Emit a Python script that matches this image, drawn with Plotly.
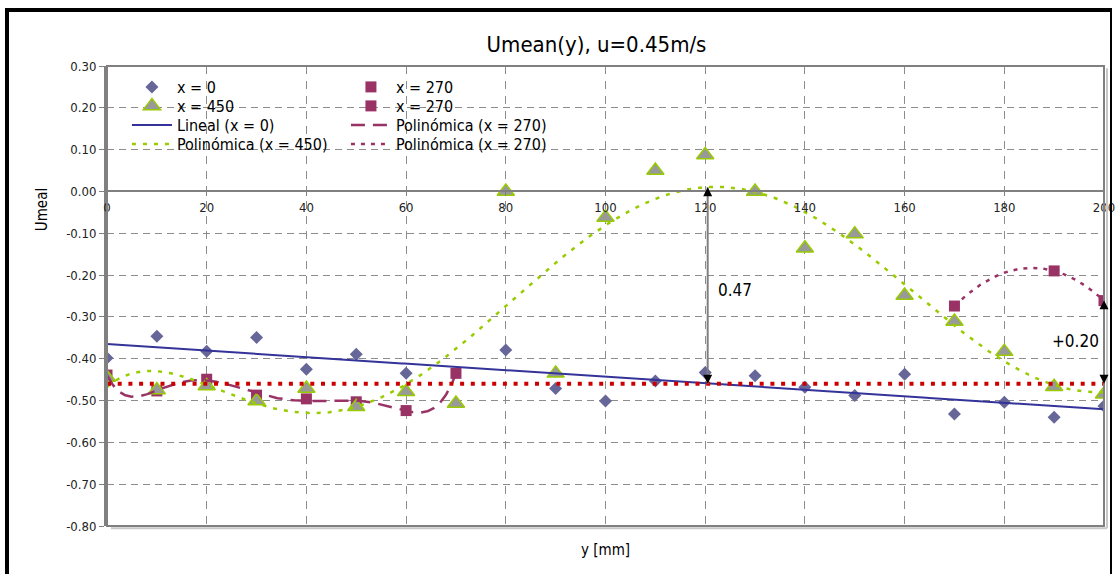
import numpy as np
import plotly.graph_objects as go

FONT = "DejaVu Sans Condensed, Liberation Sans Narrow, Roboto Condensed, Roboto, sans-serif"

# --- measured mean velocity profiles, Umean vs y [mm] ---
y_x0 = [0, 10, 20, 30, 40, 50, 60, 80, 90, 100, 110, 120, 130, 140, 150, 160, 170, 180, 190, 200]
u_x0 = [-0.398, -0.346, -0.382, -0.349, -0.425, -0.389, -0.435, -0.379, -0.471, -0.501,
        -0.453, -0.433, -0.441, -0.468, -0.488, -0.437, -0.532, -0.504, -0.540, -0.513]

y_x450 = [0, 10, 20, 30, 40, 50, 60, 70, 80, 90, 100, 110, 120, 130, 140, 150, 160, 170, 180, 190, 200]
u_x450 = [-0.445, -0.475, -0.465, -0.501, -0.471, -0.515, -0.479, -0.507, 0.000, -0.435,
          -0.062, 0.050, 0.087, 0.000, -0.136, -0.102, -0.249, -0.311, -0.383, -0.467, -0.485]

y_x270a = [0, 10, 20, 30, 40, 50, 60, 70]
u_x270a = [-0.439, -0.477, -0.449, -0.487, -0.496, -0.503, -0.524, -0.435]

y_x270b = [170, 190, 200]
u_x270b = [-0.274, -0.190, -0.261]

# horizontal reference level and the two marked gaps
ref_y = [0, 200]
ref_u = [-0.46, -0.46]
gap_x = [120.5, 200]
gap_val = [0.47, 0.20]
gap_text = ["0.47", "+0.20"]

# tick labels
x_ticks = [0, 20, 40, 60, 80, 100, 120, 140, 160, 180, 200]
y_ticks = [0.30, 0.20, 0.10, 0.00, -0.10, -0.20, -0.30, -0.40, -0.50, -0.60, -0.70, -0.80]

C_X0 = "#666699"
C_LIN = "#333399"
C_450 = "#99CC00"
C_270 = "#993366"
C_REF = "#CC0000"
GRID = "#8c8c8c"


def trend(xs, ys, deg, n=400):
    """Least-squares polynomial trendline evaluated over the data range."""
    coef = np.polyfit(xs, ys, deg)
    xx = np.linspace(min(xs), max(xs), n)
    return xx, np.polyval(coef, xx)


fig = go.Figure()

# markers (each legend row is its own horizontal legend)
fig.add_trace(go.Scatter(x=y_x0, y=u_x0, mode="markers", name="x = 0",
                         marker=dict(symbol="diamond", size=10, color=C_X0, line=dict(width=0)),
                         legend="legend"))
fig.add_trace(go.Scatter(x=y_x270a, y=u_x270a, mode="markers", name="x = 270",
                         marker=dict(symbol="square", size=11, color=C_270, line=dict(width=0)),
                         legend="legend"))
fig.add_trace(go.Scatter(x=y_x450, y=u_x450, mode="markers", name="x = 450",
                         marker=dict(symbol="triangle-up", size=15, color="#999999",
                                     line=dict(width=1.5, color=C_450)),
                         legend="legend2"))
fig.add_trace(go.Scatter(x=y_x270b, y=u_x270b, mode="markers", name="x = 270",
                         marker=dict(symbol="square", size=11, color=C_270, line=dict(width=0)),
                         legend="legend2"))

# trendlines
tx, ty = trend(y_x0, u_x0, 1)
fig.add_trace(go.Scatter(x=tx, y=ty, mode="lines", name="Lineal (x = 0)",
                         line=dict(color=C_LIN, width=2), legend="legend3"))
tx, ty = trend(y_x270a, u_x270a, 6)
fig.add_trace(go.Scatter(x=tx, y=ty, mode="lines", name="Polinómica (x = 270)",
                         line=dict(color=C_270, width=2.5, dash="14px,8px"), legend="legend3"))
tx, ty = trend(y_x450, u_x450, 6)
fig.add_trace(go.Scatter(x=tx, y=ty, mode="lines", name="Polinómica (x = 450)",
                         line=dict(color=C_450, width=2.5, dash="4px,7px"), legend="legend4"))
tx, ty = trend(y_x270b, u_x270b, 2)
fig.add_trace(go.Scatter(x=tx, y=ty, mode="lines", name="Polinómica (x = 270)",
                         line=dict(color=C_270, width=2.5, dash="4px,6px"), legend="legend4"))

# reference level
fig.add_trace(go.Scatter(x=ref_y, y=ref_u, mode="lines", showlegend=False,
                         line=dict(color=C_REF, width=4, dash="4px,6.7px")))

shapes = []
annotations = []

# gap markers: gray shaft with black arrowheads at both ends
base = ref_u[0]
for gx, gv in zip(gap_x, gap_val):
    top = base + gv
    shapes.append(dict(type="line", xref="x", yref="y", x0=gx, x1=gx, y0=base, y1=top,
                       line=dict(color="#7f7f7f", width=2)))
    for tip, ay in ((top, 9), (base, -9)):
        annotations.append(dict(x=gx, y=tip, xref="x", yref="y", text="", showarrow=True,
                                ax=0, ay=ay, arrowhead=2, arrowsize=1.2, arrowwidth=1.5,
                                arrowcolor="black", standoff=0, startstandoff=0))

annotations.append(dict(x=126.0, y=-0.236, xref="x", yref="y", text=gap_text[0],
                        showarrow=False, font=dict(family=FONT, size=17, color="black")))
annotations.append(dict(x=194.2, y=-0.358, xref="x", yref="y", text=gap_text[1],
                        showarrow=False, font=dict(family=FONT, size=17, color="black")))

# axis titles
annotations.append(dict(x=-0.065, y=(526 - 210) / 460, xref="paper", yref="paper", text="Umeal",
                        textangle=-90, showarrow=False, xanchor="center", yanchor="middle",
                        font=dict(family=FONT, size=15, color="black")))
annotations.append(dict(x=0.4995, y=-0.052, xref="paper", yref="paper", text="y [mm]",
                        showarrow=False, xanchor="center", yanchor="middle",
                        font=dict(family=FONT, size=15, color="black")))

# plot-area frame with a soft shadow, and the outer chart frame
shapes.append(dict(type="line", xref="paper", yref="paper", x0=0.004, x1=1.003, y0=-0.005, y1=-0.005,
                   line=dict(color="#c8c8c8", width=2)))
shapes.append(dict(type="line", xref="paper", yref="paper", x0=1.003, x1=1.003, y0=-0.005, y1=0.995,
                   line=dict(color="#c8c8c8", width=2)))
shapes.append(dict(type="rect", xref="paper", yref="paper", x0=0, x1=1, y0=0, y1=1,
                   line=dict(color="#808080", width=2)))
shapes.append(dict(type="line", xref="paper", yref="paper", x0=(7 - 107) / 997, x1=(7 - 107) / 997,
                   y0=(526 - 9) / 460, y1=(526 - 600) / 460, line=dict(color="black", width=4)))
shapes.append(dict(type="line", xref="paper", yref="paper", x0=(5 - 107) / 997, x1=(1112 - 107) / 997,
                   y0=(526 - 10) / 460, y1=(526 - 10) / 460, line=dict(color="black", width=4)))
shapes.append(dict(type="line", xref="paper", yref="paper", x0=(1111 - 107) / 997, x1=(1111 - 107) / 997,
                   y0=(526 - 10) / 460, y1=(526 - 600) / 460, line=dict(color="black", width=2)))

legend_font = dict(family=FONT, size=16, color="black")
row_centres = [87, 106, 125, 144]
legend_rows = {}
for key, cy in zip(["legend", "legend2", "legend3", "legend4"], row_centres):
    legend_rows[key] = dict(orientation="h", x=0.020, y=(526 - cy) / 460,
                            xanchor="left", yanchor="middle", bgcolor="rgba(0,0,0,0)",
                            entrywidth=164, entrywidthmode="pixels", itemwidth=40,
                            font=legend_font, tracegroupgap=0)

y_lo, y_hi = -0.8, 0.3
fig.update_layout(
    width=1115, height=574,
    margin=dict(l=107, r=11, t=66, b=48, autoexpand=False),
    paper_bgcolor="white", plot_bgcolor="white",
    font=dict(family=FONT, color="black"),
    title=dict(text="Umean(y), u=0.45m/s", x=0.535, y=1 - 44 / 574, xanchor="center", yanchor="middle",
               font=dict(family=FONT, size=22, color="black")),
    xaxis=dict(range=[0, 200], tickvals=x_ticks, ticktext=[str(v) for v in x_ticks],
               showgrid=True, gridcolor=GRID, gridwidth=1, griddash="8px,7px",
               zeroline=False, showline=True, linecolor="#808080", linewidth=2,
               anchor="free", position=(0 - y_lo) / (y_hi - y_lo), automargin=False,
               ticklabeloverflow="allow",
               ticks="outside", ticklen=4, tickcolor="#808080",
               tickfont=dict(family=FONT, size=13, color="#222222")),
    yaxis=dict(range=[y_lo, y_hi], tickvals=y_ticks, ticktext=[f"{v:.2f}" for v in y_ticks],
               showgrid=True, gridcolor=GRID, gridwidth=1, griddash="7px,5px",
               zeroline=False, showline=True, linecolor="#808080", linewidth=3, automargin=False,
               ticks="outside", ticklen=5, tickcolor="#808080",
               tickfont=dict(family=FONT, size=13, color="#222222")),
    shapes=shapes,
    annotations=annotations,
    **legend_rows,
)

fig.write_html("out.html")
